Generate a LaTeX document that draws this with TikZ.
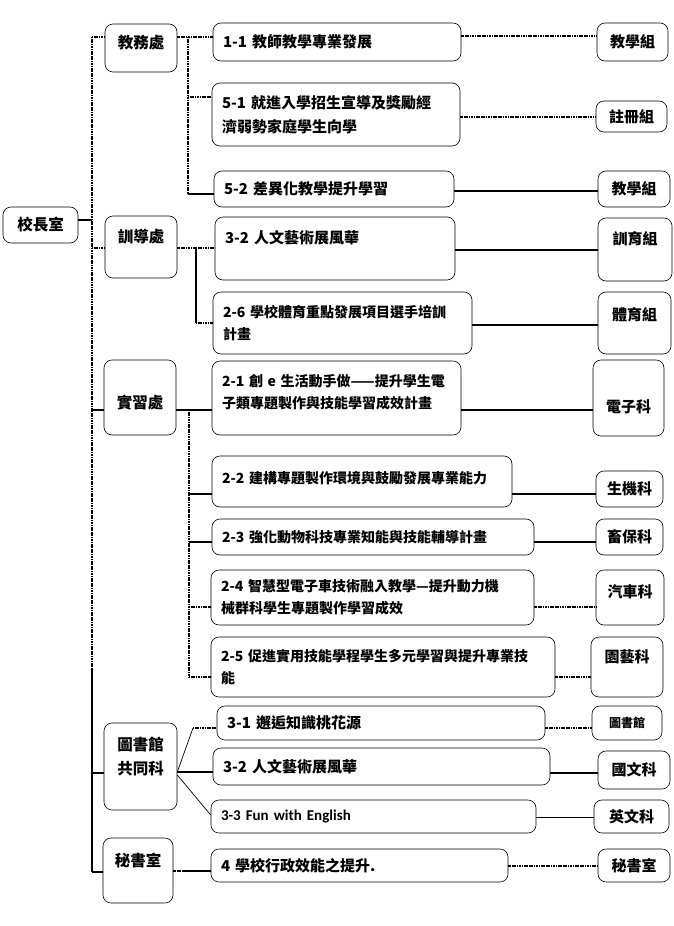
\documentclass[tikz,border=0pt]{standalone}
\usepackage{fontspec}
\setmainfont{Noto Sans CJK TC}
\newfontfamily\latinfont{Carlito}
\usepackage{tikz}
\usepackage{xcolor}

\begin{document}
\begin{tikzpicture}[
  x=1pt, y=-1pt,
  % Node Styles
  unit/.style={rectangle, rounded corners=8pt, draw, line width=0.6pt, align=center, inner sep=0pt, font=\fontsize{15.5}{24}\selectfont\bfseries},
  task/.style={rectangle, rounded corners=8pt, draw, line width=0.6pt, align=left, inner xsep=10pt, inner ysep=0pt, font=\fontsize{15}{24}\selectfont\bfseries},
  small/.style={font=\fontsize{14}{22}\selectfont\bfseries},
  group/.style={rectangle, rounded corners=8pt, draw, line width=0.6pt, align=center, inner sep=0pt, font=\fontsize{15}{24}\selectfont\bfseries},
  % Line Styles
  solidline/.style={line width=1.7pt},
  hatchline/.style={line width=1.7pt, dash pattern=on 1.2pt off 0.5pt},
  thinline/.style={line width=0.7pt}
]
\useasboundingbox (0,0) rectangle (673,926);

% Units

\node[unit, minimum width=75pt, minimum height=36pt] (U_0) at (40.5,225) {校長室};
\node[unit, minimum width=72pt, minimum height=48pt, text depth=12pt] (U_1) at (141,48) {教務處};
\node[unit, minimum width=72pt, minimum height=62pt, text depth=22pt] (U_2) at (141,247) {訓導處};
\node[unit, minimum width=72pt, minimum height=75pt, text height=23pt] (U_3) at (140,397.5) {實習處};
\node[unit, minimum width=73pt, minimum height=87pt] (U_4) at (140.5,766.5) {圖書館\\共同科\\[-2pt]\mbox{}};
\node[unit, minimum width=70pt, minimum height=65pt, text depth=22pt] (U_5) at (138,870.5) {秘書室};

% Tasks

\node[task, text width=228pt, minimum height=38pt] (T_0) at (337,42) {1-1~教師教學專業發展};
\node[task, text width=228pt, minimum height=63pt] (T_1) at (336,114.5) {5-1~就進入學招生宣導及獎勵經\\濟弱勢家庭學生向學};
\node[task, text width=220pt, minimum height=36pt] (T_2) at (334,189) {5-2~差異化教學提升學習};
\node[task, text width=220pt, minimum height=63pt] (T_3) at (335,248.5) {3-2~人文藝術展風華\\ \mbox{}};
\node[task, small, text width=239pt, minimum height=62pt] (T_4) at (342.5,323) {2-6~學校體育重點發展項目選手培訓\\計畫};
\node[task, small, text width=229pt, minimum height=74pt] (T_5) at (336.5,398) {2-1~創~e~生活動手做——提升學生電\\子類專題製作與技能學習成效計畫\\[-8pt]\mbox{}};
\node[task, small, text width=280pt, minimum height=51pt, text depth=9pt] (T_6) at (362,481.5) {2-2~建構專題製作環境與鼓勵發展專業能力};
\node[task, small, text width=302pt, minimum height=36pt] (T_7) at (373,537) {2-3~強化動物科技專業知能與技能輔導計畫};
\node[task, small, text width=303pt, minimum height=55pt] (T_8) at (372.5,597.5) {2-4~智慧型電子車技術融入教學—提升動力機\\械群科學生專題製作學習成效};
\node[task, small, text width=324pt, minimum height=60pt] (T_9) at (383,667) {2-5~促進實用技能學程學生多元學習與提升專業技\\能};
\node[task, text width=308pt, minimum height=34pt] (T_10) at (381,723) {3-1~邂逅知識桃花源};
\node[task, text width=317pt, minimum height=37pt] (T_11) at (381.5,766.5) {3-2~人文藝術展風華};
\node[task, text width=305pt, minimum height=33pt] (T_12) at (373.5,816.5) {\latinfont\bfseries 3-3~Fun~with~English};
\node[task, text width=277pt, minimum height=33pt] (T_13) at (359.5,865.5) {4~學校行政效能之提升.};

% Groups

\node[group, minimum width=71pt, minimum height=38pt] (G_0) at (632.5,42) {教學組};
\node[group, minimum width=71pt, minimum height=31pt] (G_1) at (631.5,116.5) {註冊組};
\node[group, minimum width=72pt, minimum height=36pt] (G_2) at (634,189) {教學組};
\node[group, minimum width=74pt, minimum height=63pt, text depth=24pt] (G_3) at (635,249.5) {訓育組};
\node[group, minimum width=73pt, minimum height=62pt, text depth=18pt] (G_4) at (634.5,323) {體育組};
\node[group, minimum width=71pt, minimum height=76pt, text height=31pt] (G_5) at (628.5,398) {電子科};
\node[group, minimum width=67pt, minimum height=36pt] (G_6) at (629.5,489) {生機科};
\node[group, minimum width=67pt, minimum height=36pt] (G_7) at (629.5,537) {畜保科};
\node[group, minimum width=68pt, minimum height=55pt, text depth=12pt] (G_8) at (630,597.5) {汽車科};
\node[group, minimum width=72pt, minimum height=60pt, text depth=22pt] (G_9) at (627,667) {園藝科};
\node[group, minimum width=70pt, minimum height=34pt, font=\fontsize{12}{15}\selectfont\bfseries] (G_10) at (627,723) {圖書館};
\node[group, minimum width=72pt, minimum height=38pt] (G_11) at (634,770) {國文科};
\node[group, minimum width=75pt, minimum height=33pt] (G_12) at (631.5,816.5) {英文科};
\node[group, minimum width=72pt, minimum height=33pt] (G_13) at (634,865.5) {秘書室};

% Trunk

\coordinate (M_top) at (92,37);
\coordinate (M_mid) at (92,670);
\coordinate (M_bot) at (92,872);
\draw[hatchline] (M_top) -- (M_mid);
\draw[solidline] (M_mid) -- (M_bot);
\draw[solidline] (U_0.east |- 0,220) -- (M_top |- 0,220);
\draw[hatchline] (M_top) -- (U_1.west |- M_top);
\draw[hatchline] (M_top |- 0,248) -- (U_2.west |- 0,248);
\draw[solidline] (M_top |- 0,410) -- (U_3.west |- 0,410);
\draw[solidline] (M_top |- 0,773) -- (U_4.west |- 0,773);
\draw[solidline] (M_bot) -- (U_5.west |- M_bot);

% Branches

\coordinate (J_top) at (188,37);
\coordinate (J_bot) at (188,194);
\draw[hatchline] (U_1.east |- J_top) -- (J_top) -- (T_0.west |- J_top);
\draw[hatchline] (J_top) -- (J_bot);
\draw[hatchline] (J_top |- 0,97) -- (T_1.west |- 0,97);
\draw[solidline] (J_bot) -- (T_2.west |- J_bot);

\coordinate (X_top) at (196,248);
\coordinate (X_bot) at (196,323);
\draw[hatchline] (U_2.east |- X_top) -- (T_3.west |- X_top);
\draw[solidline] (X_top) -- (X_bot);
\draw[hatchline] (X_bot) -- (T_4.west |- X_bot);

\coordinate (S_top) at (189,410);
\coordinate (S_bot) at (189,677);
\draw[solidline] (U_3.east |- S_top) -- (T_5.west |- S_top);
\draw[hatchline] (S_top) -- (S_bot);
\draw[solidline] (S_top |- 0,494) -- (T_6.west |- 0,494);
\draw[solidline] (S_top |- 0,542) -- (T_7.west |- 0,542);
\draw[hatchline] (S_top |- 0,607) -- (T_8.west |- 0,607);
\draw[hatchline] (S_bot) -- (T_9.west |- S_bot);

\coordinate (L_knee) at (193,728);
\draw[thinline] (U_4.east |- 0,772) -- (L_knee);
\draw[hatchline] (L_knee) -- (T_10.west |- L_knee);
\draw[solidline] (U_4.east |- 0,772) -- (T_11.west |- 0,772);
\draw[thinline] (U_4.east |- 0,775) -- (T_12.west |- 0,815);

\coordinate (K_mid) at (182,871);
\draw[hatchline] (U_5.east |- K_mid) -- (K_mid);
\draw[solidline] (K_mid) -- (T_13.west |- K_mid);

% Links to groups

\draw[hatchline] (T_0.east |- 0,36) -- (G_0.west |- 0,36);
\draw[hatchline] (T_1.east |- 0,117) -- (G_1.west |- 0,117);
\draw[solidline] (T_2.east |- 0,191) -- (G_2.west |- 0,191);
\draw[solidline] (T_3.east |- 0,250) -- (G_3.west |- 0,250);
\draw[solidline] (T_4.east |- 0,325) -- (G_4.west |- 0,325);
\draw[solidline] (T_5.east |- 0,410) -- (G_5.west |- 0,410);
\draw[solidline] (T_6.east |- 0,494) -- (G_6.west |- 0,494);
\draw[solidline] (T_7.east |- 0,542) -- (G_7.west |- 0,542);
\draw[hatchline] (T_8.east |- 0,607) -- (G_8.west |- 0,607);
\draw[hatchline] (T_9.east |- 0,677) -- (G_9.west |- 0,677);
\draw[hatchline] (T_10.east |- 0,728) -- (G_10.west |- 0,728);
\draw[solidline] (T_11.east |- 0,773) -- (G_11.west |- 0,773);
\draw[thinline] (T_12.east |- 0,817) -- (G_12.west |- 0,817);
\draw[hatchline] (T_13.east |- 0,866) -- (G_13.west |- 0,866);

\end{tikzpicture}
\end{document}
